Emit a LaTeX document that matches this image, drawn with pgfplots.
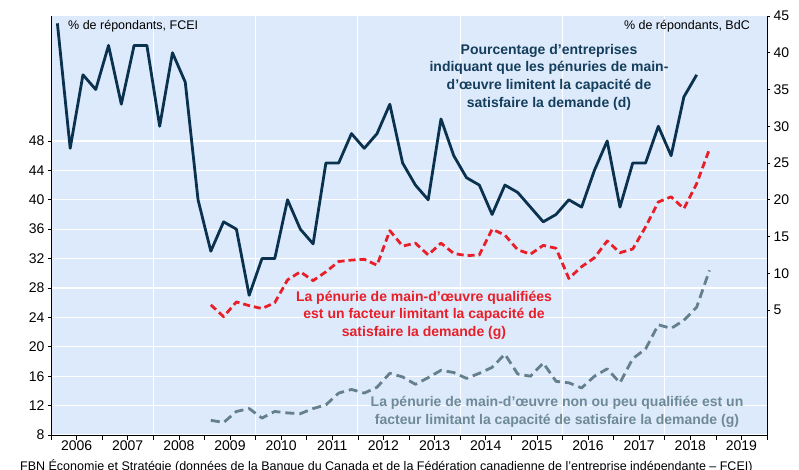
\documentclass[border=0pt]{standalone}
\usepackage{pgfplots}
\pgfplotsset{compat=1.18}
\usepackage{fontspec}
\setmainfont{Liberation Sans}
\definecolor{bgblue}{RGB}{221,234,251}
\definecolor{navy}{RGB}{10,50,78}
\definecolor{titlenavy}{RGB}{20,62,92}
\definecolor{rred}{RGB}{232,30,40}
\definecolor{sgray}{RGB}{100,128,140}
\definecolor{tgray}{RGB}{110,138,150}
\pgfplotsset{
  common/.style={
    width=716pt, height=419pt, scale only axis,
    xmin=2006, xmax=2020,
    /pgf/number format/assume math mode=true,
    /pgf/number format/1000 sep={},
    tick label style={font=\fontsize{14}{14}\selectfont},
    tick align=outside,
    tick style={black, line width=0.6pt},
    major tick length=3pt,
    axis line style={black, line width=0.8pt},
  }
}
\begin{document}
\begin{tikzpicture}[x=1pt,y=1pt]
\useasboundingbox (-51,-34) rectangle (748,435);
\begin{axis}[common,
  at={(0,0)}, anchor=south west,
  ymin=8, ymax=65,
  axis x line*=bottom, axis y line*=left,
  axis background/.style={fill=bgblue},
  ytick={8,12,...,48},
  ymajorgrids, major grid style={white, line width=1.2pt},
  xtick={2006,...,2020}, xticklabels={},
  minor x tick num=3,
  xtick style={/pgfplots/major tick length=5pt},
  minor tick length=3pt,
  extra x ticks={2006.5,2007.5,2008.5,2009.5,2010.5,2011.5,2012.5,2013.5,2014.5,2015.5,2016.5,2017.5,2018.5,2019.5},
  extra x tick labels={2006,2007,2008,2009,2010,2011,2012,2013,2014,2015,2016,2017,2018,2019},
  extra x tick style={/pgfplots/major tick length=0pt, grid=none, /pgfplots/minor x tick num=0, xticklabel style={yshift=-2pt}},
]
\draw[white, line width=1.2pt] (axis cs:2008,8) -- (axis cs:2008,65);
\draw[white, line width=1.2pt] (axis cs:2010,8) -- (axis cs:2010,65);
\draw[white, line width=1.2pt] (axis cs:2012,8) -- (axis cs:2012,65);
\draw[white, line width=1.2pt] (axis cs:2014,8) -- (axis cs:2014,65);
\draw[white, line width=1.2pt] (axis cs:2016,8) -- (axis cs:2016,65);
\draw[white, line width=1.2pt] (axis cs:2018,8) -- (axis cs:2018,65);
% qualified labour shortage (left axis)
\addplot[rred, line width=2.8pt, dash pattern=on 7pt off 4pt, line join=round] coordinates {
(2009.125,25.7) (2009.375,24.1) (2009.625,26.1) (2009.875,25.6)
(2010.125,25.2) (2010.375,26.0) (2010.625,29.1) (2010.875,30.2)
(2011.125,29.0) (2011.375,30.2) (2011.625,31.6) (2011.875,31.8)
(2012.125,31.9) (2012.375,31.1) (2012.625,35.8) (2012.875,33.7)
(2013.125,34.1) (2013.375,32.5) (2013.625,34.1) (2013.875,32.7)
(2014.125,32.4) (2014.375,32.5) (2014.625,36.0) (2014.875,35.2)
(2015.125,33.2) (2015.375,32.6) (2015.625,33.8) (2015.875,33.4)
(2016.125,29.3) (2016.375,30.9) (2016.625,32.1) (2016.875,34.4)
(2017.125,32.8) (2017.375,33.3) (2017.625,36.3) (2017.875,39.7)
(2018.125,40.4) (2018.375,38.8) (2018.625,42.2) (2018.875,46.9)
};
% unskilled labour shortage (left axis)
\addplot[sgray, line width=2.8pt, dash pattern=on 9pt off 5pt, line join=round] coordinates {
(2009.125,10.0) (2009.375,9.7) (2009.625,11.2) (2009.875,11.6)
(2010.125,10.3) (2010.375,11.2) (2010.625,11.0) (2010.875,10.9)
(2011.125,11.6) (2011.375,12.1) (2011.625,13.7) (2011.875,14.2)
(2012.125,13.7) (2012.375,14.5) (2012.625,16.4) (2012.875,15.9)
(2013.125,14.9) (2013.375,15.8) (2013.625,16.8) (2013.875,16.5)
(2014.125,15.7) (2014.375,16.4) (2014.625,17.2) (2014.875,19.0)
(2015.125,16.3) (2015.375,16.0) (2015.625,17.8) (2015.875,15.3)
(2016.125,15.1) (2016.375,14.4) (2016.625,16.0) (2016.875,17.0)
(2017.125,15.1) (2017.375,18.4) (2017.625,19.7) (2017.875,23.0)
(2018.125,22.5) (2018.375,23.6) (2018.625,25.4) (2018.875,30.4)
};
\end{axis}
\begin{axis}[common,
  at={(0,0)}, anchor=south west,
  ymin=-12, ymax=45,
  axis y line*=right, axis x line=none,
  ytick={5,10,...,45},
]
\addplot[navy, line width=2.8pt, line join=round] coordinates {
(2006.125,44) (2006.375,27) (2006.625,37) (2006.875,35)
(2007.125,41) (2007.375,33) (2007.625,41) (2007.875,41)
(2008.125,30) (2008.375,40) (2008.625,36) (2008.875,20)
(2009.125,13) (2009.375,17) (2009.625,16) (2009.875,7)
(2010.125,12) (2010.375,12) (2010.625,20) (2010.875,16)
(2011.125,14) (2011.375,25) (2011.625,25) (2011.875,29)
(2012.125,27) (2012.375,29) (2012.625,33) (2012.875,25)
(2013.125,22) (2013.375,20) (2013.625,31) (2013.875,26)
(2014.125,23) (2014.375,22) (2014.625,18) (2014.875,22)
(2015.125,21) (2015.375,19) (2015.625,17) (2015.875,18)
(2016.125,20) (2016.375,19) (2016.625,24) (2016.875,28)
(2017.125,19) (2017.375,25) (2017.625,25) (2017.875,30)
(2018.125,26) (2018.375,34) (2018.625,37)
};
\end{axis}
\node[anchor=base west, inner sep=0pt, font=\fontsize{12.5}{12.5}\selectfont] at (17,405) {\% de répondants, FCEI};
\node[anchor=base east, inner sep=0pt, font=\fontsize{12.5}{12.5}\selectfont] at (699,405) {\% de répondants, BdC};
\node[align=center, inner sep=0pt, text=titlenavy, font=\fontsize{14}{17.7}\selectfont\bfseries] at (498,358) {Pourcentage d’entreprises\\indiquant que les pénuries de main-\\d’œuvre limitent la capacité de\\satisfaire la demande (d)};
\node[align=center, inner sep=0pt, text=rred, font=\fontsize{14}{17.5}\selectfont\bfseries] at (373,120) {La pénurie de main-d’œuvre qualifiées\\est un facteur limitant la capacité de\\satisfaire la demande (g)};
\node[align=center, inner sep=0pt, text=tgray, font=\fontsize{14}{18.3}\selectfont\bfseries] at (506,23) {La pénurie de main-d’œuvre non ou peu qualifiée est un\\facteur limitant la capacité de satisfaire la demande (g)};
\node[anchor=base west, inner sep=0pt, font=\fontsize{12.5}{12.5}\selectfont] at (-31,-35) {FBN Économie et Stratégie (données de la Banque du Canada et de la Fédération canadienne de l’entreprise indépendante – FCEI)};
\end{tikzpicture}
\end{document}
